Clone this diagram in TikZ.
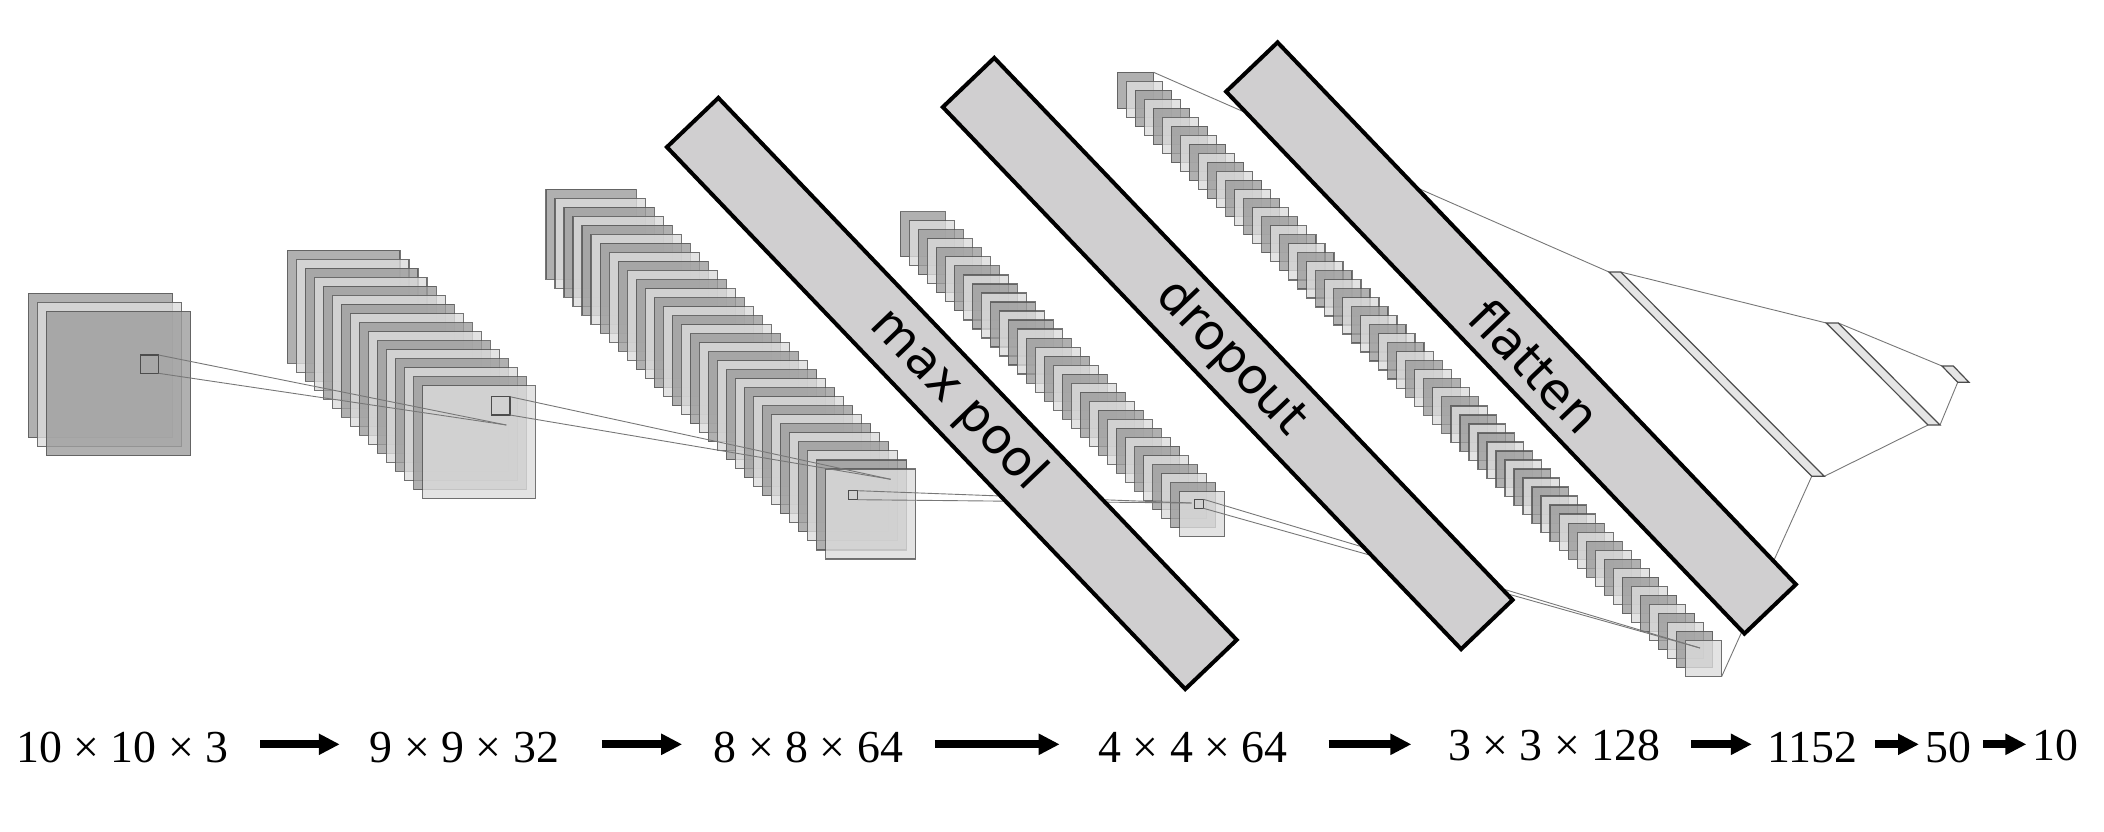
\documentclass[tikz,border=0pt]{standalone}
\usepackage{fontspec}
\setmainfont{Liberation Serif}
\newfontfamily\barfont{DejaVu Sans}
\usetikzlibrary{arrows.meta}
\definecolor{sheetdark}{HTML}{9C9C9C}
\definecolor{sheetlight}{HTML}{DCDCDC}
\definecolor{barfill}{HTML}{D0CFD0}
\definecolor{linkgray}{HTML}{777777}
\tikzset{
  x=0.5pt,y=-0.5pt,
  sheet/.style={draw=black!68,line width=0.6pt,fill opacity=0.8,draw opacity=0.8,inner sep=0pt,outer sep=0pt,anchor=north west,rectangle},
  kernel/.style={draw=black!70,line width=0.6pt,inner sep=0pt,outer sep=0pt,rectangle,anchor=north west},
  link/.style={draw=linkgray,line width=0.45pt},
  dense/.style={draw=black!70,line width=0.6pt,fill=black!10,line join=miter},
  bandbar/.style={draw=black,fill=barfill,line width=2pt,rotate=-46.28,minimum width=375pt,minimum height=35.6pt,inner sep=0pt,outer sep=0pt,rectangle,line join=miter},
  barlabel/.style={font=\barfont\fontsize{24.75pt}{28pt}\selectfont,rotate=-46.28,inner sep=0pt,text=black},
  dim/.style={font=\fontsize{22.9pt}{26pt}\selectfont,inner sep=0pt,outer sep=0pt,text depth=0pt,text=black},
  flow/.style={line width=3.85pt,draw=black,-{Triangle[length=10.5pt,width=10pt]}}
}
\newcommand{\stackof}[8]{%
  \foreach \i in {1,...,#8}{%
    \pgfmathsetmacro\px{#2+(\i-1)*#4}%
    \pgfmathsetmacro\py{#3+(\i-1)*#5}%
    \pgfmathsetmacro\tp{int(mod(\i,2))}%
    \ifnum\tp=1
      \node[sheet,fill=sheetdark,minimum width=#6*0.5pt,minimum height=#7*0.5pt] (#1-\i) at (\px,\py) {};
    \else
      \node[sheet,fill=sheetlight,minimum width=#6*0.5pt,minimum height=#7*0.5pt] (#1-\i) at (\px,\py) {};
    \fi
  }%
}
\begin{document}
\begin{tikzpicture}
\useasboundingbox (0,0) rectangle (2104,831);
% stacks
\stackof{a}{28.2}{293.3}{9.1}{9}{144.3}{144.5}{3}
\stackof{b}{287.1}{250.3}{9.03}{9.03}{112.9}{112.8}{16}
\stackof{c}{546}{189.3}{9.016}{9.02}{90.2}{90}{32}
\stackof{d}{900.1}{211.7}{9.016}{9.03}{45}{45}{32}
\stackof{e}{1117.3}{72.3}{9.016}{9.016}{36.3}{36.3}{64}
% kernels
\node[kernel,minimum width=9.1pt,minimum height=9.15pt] (k1) at (140.4,355) {};
\node[kernel,minimum width=9.1pt,minimum height=9.15pt] (k2) at (491.8,396.7) {};
\node[kernel,minimum width=4.6pt,minimum height=4.5pt] (k3) at (848.3,490.7) {};
\node[kernel,minimum width=4.6pt,minimum height=4.5pt] (k4) at (1194.3,499.3) {};
\coordinate (p1) at (506.4,425);
\coordinate (p2) at (890.7,479.3);
\coordinate (p3) at (1191.6,503);
\coordinate (p4) at (1700,648);
% dense layers
\coordinate (f1a) at (1609,272); \coordinate (f1b) at (1620.7,272);
\coordinate (f1c) at (1824.3,476.3); \coordinate (f1d) at (1811.7,476.3);
\coordinate (f2a) at (1826.3,323); \coordinate (f2b) at (1838.3,323);
\coordinate (f2c) at (1940,425); \coordinate (f2d) at (1928,425);
\coordinate (f3a) at (1942,366); \coordinate (f3b) at (1953.3,366);
\coordinate (f3c) at (1969,382.3); \coordinate (f3d) at (1957.7,382.3);
% links
\draw[link] (k1.north east) -- (p1);
\draw[link] (k1.south east) -- (p1);
\draw[link] (k2.north east) -- (p2);
\draw[link] (k2.south east) -- (p2);
\draw[link] (k3.north east) -- (p3);
\draw[link] (k3.south east) -- (p3);
\draw[link] (k4.north east) -- (p4);
\draw[link] (k4.south east) -- (p4);
\draw[link] (e-1.north east) -- (f1a);
\draw[link] (e-64.south east) -- (f1d);
\draw[link] (f1b) -- (f2a);
\draw[link] (f1c) -- (f2d);
\draw[link] (f2b) -- (f3a);
\draw[link] (f2c) -- (f3d);
\draw[dense] (f1a) -- (f1b) -- (f1c) -- (f1d) -- cycle;
\draw[dense] (f2a) -- (f2b) -- (f2c) -- (f2d) -- cycle;
\draw[dense] (f3a) -- (f3b) -- (f3c) -- (f3d) -- cycle;
% bars
\node[bandbar] (maxpool) at (951.8,393.5) {};
\node[bandbar] (dropout) at (1227.7,353.5) {};
\node[bandbar] (flatten) at (1511,338) {};
\node[barlabel] (lmax) at (958,400) {max pool};
\node[barlabel] (ldrop) at (1231,358) {dropout};
\node[barlabel] (lflat) at (1535,366) {flatten};
% dimensions
\node[dim,text height=17.7pt] (t1) at (122.4,744.3) {10 × 10 × 3};
\node[dim,text height=17.7pt] (t2) at (464.5,744.3) {9 × 9 × 32};
\node[dim,text height=17.7pt] (t3) at (808.5,744.3) {8 × 8 × 64};
\node[dim,text height=17.7pt] (t4) at (1193,744.3) {4 × 4 × 64};
\node[dim,text height=15.7pt] (t5) at (1554,744.3) {3 × 3 × 128};
\node[dim,text height=17.7pt] (t6) at (1812,744.3) {1152};
\node[dim,text height=17.7pt] (t7) at (1948.7,744.3) {50};
\node[dim,text height=15.7pt] (t8) at (2055.5,744.3) {10};
\draw[flow,shorten <=15.9pt,shorten >=15.1pt] (t1.east) -- (t2.west);
\draw[flow,shorten <=21.4pt,shorten >=15.9pt] (t2.east) -- (t3.west);
\draw[flow,shorten <=15.9pt,shorten >=19.4pt] (t3.east) -- (t4.west);
\draw[flow,shorten <=20.6pt,shorten >=18.3pt] (t4.east) -- (t5.west);
\draw[flow,shorten <=15.6pt,shorten >=7.6pt] (t5.east) -- (t6.west);
\draw[flow,shorten <=9.1pt,shorten >=3.4pt] (t6.east) -- (t7.west);
\draw[flow,shorten <=5.7pt,shorten >=3.1pt] (t7.east) -- (t8.west);
\end{tikzpicture}
\end{document}
